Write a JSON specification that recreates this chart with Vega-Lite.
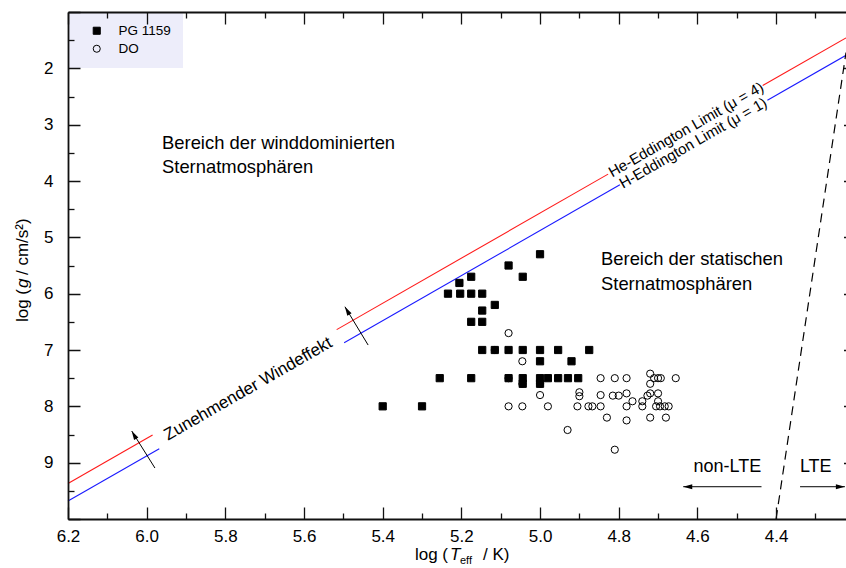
{
  "$schema": "https://vega.github.io/schema/vega-lite/v6.json",
  "width": 778,
  "height": 507,
  "autosize": {"type": "none"},
  "padding": {"left": 68, "top": 12, "right": 0, "bottom": 49},
  "background": "white",
  "config": {
    "view": {"stroke": null},
    "font": "Liberation Sans",
    "text": {"font": "Liberation Sans", "color": "black"},
    "legend": {
      "orient": "none", "legendX": 0, "legendY": 0, "zindex": 0,
      "fillColor": "#ededfa", "padding": 12, "symbolOffset": 10,
      "labelOffset": 15, "labelFontSize": 13.5, "labelFont": "Liberation Sans",
      "labelColor": "black", "rowPadding": 3, "symbolSize": 50,
      "symbolStrokeWidth": 1, "symbolStrokeColor": "black"
    }
  },
  "datasets": {
    "eddington": [
      {"limit": "He", "seg": "He-a", "logT": 6.2, "logg": 9.37},
      {"limit": "He", "seg": "He-a", "logT": 5.985, "logg": 8.51},
      {"limit": "He", "seg": "He-b", "logT": 5.517, "logg": 6.638},
      {"limit": "He", "seg": "He-b", "logT": 4.827, "logg": 3.878},
      {"limit": "He", "seg": "He-c", "logT": 4.434, "logg": 2.306},
      {"limit": "He", "seg": "He-c", "logT": 4.2222, "logg": 1.459},
      {"limit": "H", "seg": "H-a", "logT": 6.2, "logg": 9.68},
      {"limit": "H", "seg": "H-a", "logT": 5.968, "logg": 8.752},
      {"limit": "H", "seg": "H-b", "logT": 5.498, "logg": 6.872},
      {"limit": "H", "seg": "H-b", "logT": 4.797, "logg": 4.068},
      {"limit": "H", "seg": "H-c", "logT": 4.422, "logg": 2.568},
      {"limit": "H", "seg": "H-c", "logT": 4.2222, "logg": 1.769}
    ],
    "lteBorder": [
      {"logT": 4.4, "logg": 10.0},
      {"logT": 4.2222, "logg": 1.72}
    ],
    "stars": [
      {"class": "DO", "logT": 5.08, "logg": 6.7},
      {"class": "DO", "logT": 5.115, "logg": 7.0},
      {"class": "DO", "logT": 5.045, "logg": 7.2},
      {"class": "DO", "logT": 5.08, "logg": 7.5},
      {"class": "DO", "logT": 5.045, "logg": 7.6},
      {"class": "DO", "logT": 5.0, "logg": 7.6},
      {"class": "DO", "logT": 5.0, "logg": 7.8},
      {"class": "DO", "logT": 4.9, "logg": 7.75},
      {"class": "DO", "logT": 4.9, "logg": 7.82},
      {"class": "DO", "logT": 5.08, "logg": 8.0},
      {"class": "DO", "logT": 5.045, "logg": 8.0},
      {"class": "DO", "logT": 4.98, "logg": 8.0},
      {"class": "DO", "logT": 4.905, "logg": 8.0},
      {"class": "DO", "logT": 4.877, "logg": 8.0},
      {"class": "DO", "logT": 4.867, "logg": 8.0},
      {"class": "DO", "logT": 4.846, "logg": 8.0},
      {"class": "DO", "logT": 4.93, "logg": 8.42},
      {"class": "DO", "logT": 4.846, "logg": 7.5},
      {"class": "DO", "logT": 4.81, "logg": 7.5},
      {"class": "DO", "logT": 4.78, "logg": 7.5},
      {"class": "DO", "logT": 4.72, "logg": 7.42},
      {"class": "DO", "logT": 4.71, "logg": 7.5},
      {"class": "DO", "logT": 4.7, "logg": 7.5},
      {"class": "DO", "logT": 4.693, "logg": 7.5},
      {"class": "DO", "logT": 4.655, "logg": 7.5},
      {"class": "DO", "logT": 4.72, "logg": 7.6},
      {"class": "DO", "logT": 4.846, "logg": 7.8},
      {"class": "DO", "logT": 4.815, "logg": 7.81},
      {"class": "DO", "logT": 4.8, "logg": 7.81},
      {"class": "DO", "logT": 4.78, "logg": 7.77},
      {"class": "DO", "logT": 4.72, "logg": 7.77},
      {"class": "DO", "logT": 4.7, "logg": 7.77},
      {"class": "DO", "logT": 4.727, "logg": 7.81},
      {"class": "DO", "logT": 4.765, "logg": 7.91},
      {"class": "DO", "logT": 4.74, "logg": 7.91},
      {"class": "DO", "logT": 4.7, "logg": 7.91},
      {"class": "DO", "logT": 4.78, "logg": 8.0},
      {"class": "DO", "logT": 4.74, "logg": 8.0},
      {"class": "DO", "logT": 4.705, "logg": 8.0},
      {"class": "DO", "logT": 4.695, "logg": 8.0},
      {"class": "DO", "logT": 4.683, "logg": 8.0},
      {"class": "DO", "logT": 4.673, "logg": 8.0},
      {"class": "DO", "logT": 4.83, "logg": 8.2},
      {"class": "DO", "logT": 4.78, "logg": 8.25},
      {"class": "DO", "logT": 4.72, "logg": 8.2},
      {"class": "DO", "logT": 4.68, "logg": 8.2},
      {"class": "DO", "logT": 4.81, "logg": 8.77},
      {"class": "PG 1159", "logT": 5.4, "logg": 8.0},
      {"class": "PG 1159", "logT": 5.3, "logg": 8.0},
      {"class": "PG 1159", "logT": 5.255, "logg": 7.5},
      {"class": "PG 1159", "logT": 5.175, "logg": 7.5},
      {"class": "PG 1159", "logT": 5.234, "logg": 6.0},
      {"class": "PG 1159", "logT": 5.203, "logg": 6.0},
      {"class": "PG 1159", "logT": 5.175, "logg": 6.0},
      {"class": "PG 1159", "logT": 5.147, "logg": 6.0},
      {"class": "PG 1159", "logT": 5.205, "logg": 5.81},
      {"class": "PG 1159", "logT": 5.175, "logg": 5.7},
      {"class": "PG 1159", "logT": 5.08, "logg": 5.5},
      {"class": "PG 1159", "logT": 5.044, "logg": 5.7},
      {"class": "PG 1159", "logT": 5.0, "logg": 5.3},
      {"class": "PG 1159", "logT": 5.115, "logg": 6.2},
      {"class": "PG 1159", "logT": 5.147, "logg": 6.3},
      {"class": "PG 1159", "logT": 5.175, "logg": 6.5},
      {"class": "PG 1159", "logT": 5.147, "logg": 6.5},
      {"class": "PG 1159", "logT": 5.147, "logg": 7.0},
      {"class": "PG 1159", "logT": 5.115, "logg": 7.0},
      {"class": "PG 1159", "logT": 5.08, "logg": 7.0},
      {"class": "PG 1159", "logT": 5.044, "logg": 7.0},
      {"class": "PG 1159", "logT": 5.0, "logg": 7.0},
      {"class": "PG 1159", "logT": 4.954, "logg": 7.0},
      {"class": "PG 1159", "logT": 4.875, "logg": 7.0},
      {"class": "PG 1159", "logT": 5.0, "logg": 7.2},
      {"class": "PG 1159", "logT": 4.92, "logg": 7.2},
      {"class": "PG 1159", "logT": 5.08, "logg": 7.5},
      {"class": "PG 1159", "logT": 5.044, "logg": 7.5},
      {"class": "PG 1159", "logT": 5.0, "logg": 7.5},
      {"class": "PG 1159", "logT": 4.98, "logg": 7.5},
      {"class": "PG 1159", "logT": 4.954, "logg": 7.5},
      {"class": "PG 1159", "logT": 4.929, "logg": 7.5},
      {"class": "PG 1159", "logT": 4.903, "logg": 7.5},
      {"class": "PG 1159", "logT": 5.044, "logg": 7.6},
      {"class": "PG 1159", "logT": 5.0, "logg": 7.6}
    ],
    "regions": [
      {"text": "Bereich der winddominierten", "logT": 5.961, "logg": 3.326},
      {"text": "Sternatmosphären", "logT": 5.961, "logg": 3.752},
      {"text": "Bereich der statischen", "logT": 4.845, "logg": 5.385},
      {"text": "Sternatmosphären", "logT": 4.845, "logg": 5.829}
    ],
    "limitLabels": [
      {"text": "He-Eddington Limit (μ = 4)", "logT": 4.629, "logg": 3.086},
      {"text": "H-Eddington Limit (μ = 1)", "logT": 4.611, "logg": 3.324}
    ],
    "windLabel": [
      {"text": "Zunehmender Windeffekt", "logT": 5.742, "logg": 7.693}
    ],
    "arrows": [
      {"arrow": "wind-low", "dir": "wind", "T1": 5.979, "g1": 9.095, "T2": 6.038, "g2": 8.438},
      {"arrow": "wind-high", "dir": "wind", "T1": 5.437, "g1": 6.912, "T2": 5.496, "g2": 6.232},
      {"arrow": "non-LTE", "dir": "left", "T1": 4.437, "g1": 9.427, "T2": 4.636, "g2": 9.427},
      {"arrow": "LTE", "dir": "right", "T1": 4.339, "g1": 9.427, "T2": 4.225, "g2": 9.427}
    ],
    "lteLabels": [
      {"text": "non-LTE", "logT": 4.524, "logg": 9.077},
      {"text": "LTE", "logT": 4.299, "logg": 9.077}
    ],
    "xTitleAnchor": [{"logT": 5.234, "logg": 10.728}],
    "yTitleAnchor": [{"logT": 6.3017, "logg": 5.917}]
  },
  "resolve": {"axis": {"x": "independent", "y": "independent"}},
  "layer": [
    {
      "data": {"name": "eddington"},
      "mark": {"type": "line", "strokeWidth": 1.1},
      "encoding": {
        "x": {
          "field": "logT", "type": "quantitative",
          "scale": {"domain": [6.2, 4.2222], "nice": false, "zero": false},
          "axis": {
            "orient": "bottom", "title": null, "zindex": 2,
            "values": [6.2, 6.1, 6.0, 5.9, 5.8, 5.7, 5.6, 5.5, 5.4, 5.3, 5.2, 5.1, 5.0, 4.9, 4.8, 4.7, 4.6, 4.5, 4.4, 4.3],
            "grid": false, "domainColor": "#111111", "domainWidth": 1.8,
            "tickColor": "#111111", "tickWidth": 1.3, "tickSize": -12,
            "tickDash": {"condition": {"test": "round(datum.value * 10) % 2 != 0", "value": [6, 40]}, "value": [1, 0]},
            "labelExpr": "round(datum.value * 10) % 2 == 0 ? format(datum.value, '.1f') : ''",
            "labelFont": "Liberation Sans", "labelFontSize": 17, "labelColor": "black",
            "labelPadding": 21, "labelFlush": false, "labelOverlap": false
          }
        },
        "y": {
          "field": "logg", "type": "quantitative",
          "scale": {"domain": [10, 1], "nice": false, "zero": false},
          "axis": {
            "orient": "left", "title": null, "zindex": 2,
            "values": [1, 1.5, 2, 2.5, 3, 3.5, 4, 4.5, 5, 5.5, 6, 6.5, 7, 7.5, 8, 8.5, 9, 9.5, 10],
            "grid": false, "domainColor": "#111111", "domainWidth": 1.8,
            "tickColor": "#111111", "tickWidth": 1.3, "tickSize": -12,
            "tickDash": {"condition": {"test": "datum.value % 1 != 0", "value": [6, 40]}, "value": [1, 0]},
            "labelExpr": "datum.value % 1 == 0 && datum.value >= 2 && datum.value <= 9 ? format(datum.value, 'd') : ''",
            "labelFont": "Liberation Sans", "labelFontSize": 17, "labelColor": "black",
            "labelPadding": 27, "labelFlush": false, "labelOverlap": false
          }
        },
        "color": {
          "field": "limit", "type": "nominal",
          "scale": {"domain": ["He", "H"], "range": ["#ff1a1a", "#1a1aff"]},
          "legend": null
        },
        "detail": {"field": "seg", "type": "nominal"}
      }
    },
    {
      "data": {"name": "lteBorder"},
      "mark": {"type": "line", "color": "black", "strokeWidth": 1.2, "strokeDash": [9, 6]},
      "encoding": {
        "x": {
          "field": "logT", "type": "quantitative",
          "scale": {"domain": [6.2, 4.2222], "nice": false, "zero": false},
          "axis": {
            "orient": "top", "title": null, "zindex": 2, "labels": false,
            "values": [6.2, 6.1, 6.0, 5.9, 5.8, 5.7, 5.6, 5.5, 5.4, 5.3, 5.2, 5.1, 5.0, 4.9, 4.8, 4.7, 4.6, 4.5, 4.4, 4.3],
            "grid": false, "domainColor": "#111111", "domainWidth": 1.8,
            "tickColor": "#111111", "tickWidth": 1.3, "tickSize": -12,
            "tickDash": {"condition": {"test": "round(datum.value * 10) % 2 != 0", "value": [6, 40]}, "value": [1, 0]}
          }
        },
        "y": {
          "field": "logg", "type": "quantitative",
          "scale": {"domain": [10, 1], "nice": false, "zero": false},
          "axis": {
            "orient": "right", "title": null, "zindex": 2, "labels": false,
            "values": [2, 3, 4, 5, 6, 7, 8, 9],
            "grid": false, "domain": false,
            "tickColor": "#111111", "tickWidth": 1.3, "tickSize": -2.5
          }
        }
      }
    },
    {
      "data": {"name": "stars"},
      "mark": {"type": "point", "filled": true, "strokeWidth": 1, "size": 52, "opacity": 1},
      "encoding": {
        "x": {"field": "logT", "type": "quantitative", "scale": {"domain": [6.2, 4.2222], "nice": false, "zero": false}, "axis": null},
        "y": {"field": "logg", "type": "quantitative", "scale": {"domain": [10, 1], "nice": false, "zero": false}, "axis": null},
        "shape": {
          "field": "class", "type": "nominal",
          "scale": {"domain": ["PG 1159", "DO"], "range": ["square", "circle"]},
          "legend": {"title": null, "labelOffset": 15, "labelFontSize": 13.5}
        },
        "fill": {
          "field": "class", "type": "nominal",
          "scale": {"domain": ["PG 1159", "DO"], "range": ["#000000", "transparent"]},
          "legend": {"title": null, "labelOffset": 15, "labelFontSize": 13.5}
        },
        "stroke": {
          "field": "class", "type": "nominal",
          "scale": {"domain": ["PG 1159", "DO"], "range": ["#000000", "#000000"]},
          "legend": {"title": null, "labelOffset": 15, "labelFontSize": 13.5}
        }
      }
    },
    {
      "data": {"name": "regions"},
      "mark": {"type": "text", "align": "left", "baseline": "middle", "fontSize": 18.4, "font": "Liberation Sans", "color": "black"},
      "encoding": {
        "x": {"field": "logT", "type": "quantitative", "scale": {"domain": [6.2, 4.2222], "nice": false, "zero": false}, "axis": null},
        "y": {"field": "logg", "type": "quantitative", "scale": {"domain": [10, 1], "nice": false, "zero": false}, "axis": null},
        "text": {"field": "text"}
      }
    },
    {
      "data": {"name": "limitLabels"},
      "mark": {"type": "text", "align": "center", "baseline": "middle", "fontSize": 15, "angle": 330.2, "font": "Liberation Sans", "color": "black"},
      "encoding": {
        "x": {"field": "logT", "type": "quantitative", "scale": {"domain": [6.2, 4.2222], "nice": false, "zero": false}, "axis": null},
        "y": {"field": "logg", "type": "quantitative", "scale": {"domain": [10, 1], "nice": false, "zero": false}, "axis": null},
        "text": {"field": "text"}
      }
    },
    {
      "data": {"name": "windLabel"},
      "mark": {"type": "text", "align": "center", "baseline": "middle", "fontSize": 17, "angle": 330.2, "font": "Liberation Sans", "color": "black"},
      "encoding": {
        "x": {"field": "logT", "type": "quantitative", "scale": {"domain": [6.2, 4.2222], "nice": false, "zero": false}, "axis": null},
        "y": {"field": "logg", "type": "quantitative", "scale": {"domain": [10, 1], "nice": false, "zero": false}, "axis": null},
        "text": {"field": "text"}
      }
    },
    {
      "data": {"name": "arrows"},
      "mark": {"type": "rule", "color": "black", "strokeWidth": 1},
      "encoding": {
        "x": {"field": "T1", "type": "quantitative", "scale": {"domain": [6.2, 4.2222], "nice": false, "zero": false}, "axis": null},
        "y": {"field": "g1", "type": "quantitative", "scale": {"domain": [10, 1], "nice": false, "zero": false}, "axis": null},
        "x2": {"field": "T2"},
        "y2": {"field": "g2"}
      }
    },
    {
      "data": {"name": "arrows"},
      "transform": [{"filter": "datum.dir == 'wind'"}],
      "mark": {"type": "point", "shape": "M0,0L0.55,2L-0.55,2Z", "filled": true, "color": "black", "size": 81, "angle": 330, "opacity": 1},
      "encoding": {
        "x": {"field": "T2", "type": "quantitative", "scale": {"domain": [6.2, 4.2222], "nice": false, "zero": false}, "axis": null},
        "y": {"field": "g2", "type": "quantitative", "scale": {"domain": [10, 1], "nice": false, "zero": false}, "axis": null}
      }
    },
    {
      "data": {"name": "arrows"},
      "transform": [{"filter": "datum.dir == 'left'"}],
      "mark": {"type": "point", "shape": "M0,0L0.55,2L-0.55,2Z", "filled": true, "color": "black", "size": 81, "angle": 270, "opacity": 1},
      "encoding": {
        "x": {"field": "T2", "type": "quantitative", "scale": {"domain": [6.2, 4.2222], "nice": false, "zero": false}, "axis": null},
        "y": {"field": "g2", "type": "quantitative", "scale": {"domain": [10, 1], "nice": false, "zero": false}, "axis": null}
      }
    },
    {
      "data": {"name": "arrows"},
      "transform": [{"filter": "datum.dir == 'right'"}],
      "mark": {"type": "point", "shape": "M0,0L0.55,2L-0.55,2Z", "filled": true, "color": "black", "size": 81, "angle": 90, "opacity": 1},
      "encoding": {
        "x": {"field": "T2", "type": "quantitative", "scale": {"domain": [6.2, 4.2222], "nice": false, "zero": false}, "axis": null},
        "y": {"field": "g2", "type": "quantitative", "scale": {"domain": [10, 1], "nice": false, "zero": false}, "axis": null}
      }
    },
    {
      "data": {"name": "lteLabels"},
      "mark": {"type": "text", "align": "center", "baseline": "middle", "fontSize": 18, "font": "Liberation Sans", "color": "black"},
      "encoding": {
        "x": {"field": "logT", "type": "quantitative", "scale": {"domain": [6.2, 4.2222], "nice": false, "zero": false}, "axis": null},
        "y": {"field": "logg", "type": "quantitative", "scale": {"domain": [10, 1], "nice": false, "zero": false}, "axis": null},
        "text": {"field": "text"}
      }
    },
    {
      "data": {"name": "xTitleAnchor"},
      "mark": {"type": "text", "align": "right", "baseline": "alphabetic", "fontSize": 17, "font": "Liberation Sans", "color": "black"},
      "encoding": {
        "x": {"field": "logT", "type": "quantitative", "scale": {"domain": [6.2, 4.2222], "nice": false, "zero": false}, "axis": null},
        "y": {"field": "logg", "type": "quantitative", "scale": {"domain": [10, 1], "nice": false, "zero": false}, "axis": null},
        "text": {"value": "log ("}
      }
    },
    {
      "data": {"name": "xTitleAnchor"},
      "mark": {"type": "text", "align": "left", "baseline": "alphabetic", "fontSize": 17, "fontStyle": "italic", "dx": 2, "font": "Liberation Sans", "color": "black"},
      "encoding": {
        "x": {"field": "logT", "type": "quantitative", "scale": {"domain": [6.2, 4.2222], "nice": false, "zero": false}, "axis": null},
        "y": {"field": "logg", "type": "quantitative", "scale": {"domain": [10, 1], "nice": false, "zero": false}, "axis": null},
        "text": {"value": "T"}
      }
    },
    {
      "data": {"name": "xTitleAnchor"},
      "mark": {"type": "text", "align": "left", "baseline": "alphabetic", "fontSize": 11, "dx": 12, "dy": 4, "font": "Liberation Sans", "color": "black"},
      "encoding": {
        "x": {"field": "logT", "type": "quantitative", "scale": {"domain": [6.2, 4.2222], "nice": false, "zero": false}, "axis": null},
        "y": {"field": "logg", "type": "quantitative", "scale": {"domain": [10, 1], "nice": false, "zero": false}, "axis": null},
        "text": {"value": "eff"}
      }
    },
    {
      "data": {"name": "xTitleAnchor"},
      "mark": {"type": "text", "align": "left", "baseline": "alphabetic", "fontSize": 17, "dx": 35, "font": "Liberation Sans", "color": "black"},
      "encoding": {
        "x": {"field": "logT", "type": "quantitative", "scale": {"domain": [6.2, 4.2222], "nice": false, "zero": false}, "axis": null},
        "y": {"field": "logg", "type": "quantitative", "scale": {"domain": [10, 1], "nice": false, "zero": false}, "axis": null},
        "text": {"value": "/ K)"}
      }
    },
    {
      "data": {"name": "yTitleAnchor"},
      "mark": {"type": "text", "align": "right", "baseline": "alphabetic", "fontSize": 17, "angle": 270, "font": "Liberation Sans", "color": "black"},
      "encoding": {
        "x": {"field": "logT", "type": "quantitative", "scale": {"domain": [6.2, 4.2222], "nice": false, "zero": false}, "axis": null},
        "y": {"field": "logg", "type": "quantitative", "scale": {"domain": [10, 1], "nice": false, "zero": false}, "axis": null},
        "text": {"value": "log ("}
      }
    },
    {
      "data": {"name": "yTitleAnchor"},
      "mark": {"type": "text", "align": "left", "baseline": "alphabetic", "fontSize": 17, "fontStyle": "italic", "angle": 270, "dx": 1, "font": "Liberation Sans", "color": "black"},
      "encoding": {
        "x": {"field": "logT", "type": "quantitative", "scale": {"domain": [6.2, 4.2222], "nice": false, "zero": false}, "axis": null},
        "y": {"field": "logg", "type": "quantitative", "scale": {"domain": [10, 1], "nice": false, "zero": false}, "axis": null},
        "text": {"value": "g"}
      }
    },
    {
      "data": {"name": "yTitleAnchor"},
      "mark": {"type": "text", "align": "left", "baseline": "alphabetic", "fontSize": 17, "angle": 270, "dx": 14, "font": "Liberation Sans", "color": "black"},
      "encoding": {
        "x": {"field": "logT", "type": "quantitative", "scale": {"domain": [6.2, 4.2222], "nice": false, "zero": false}, "axis": null},
        "y": {"field": "logg", "type": "quantitative", "scale": {"domain": [10, 1], "nice": false, "zero": false}, "axis": null},
        "text": {"value": "/ cm/s²)"}
      }
    }
  ]
}
